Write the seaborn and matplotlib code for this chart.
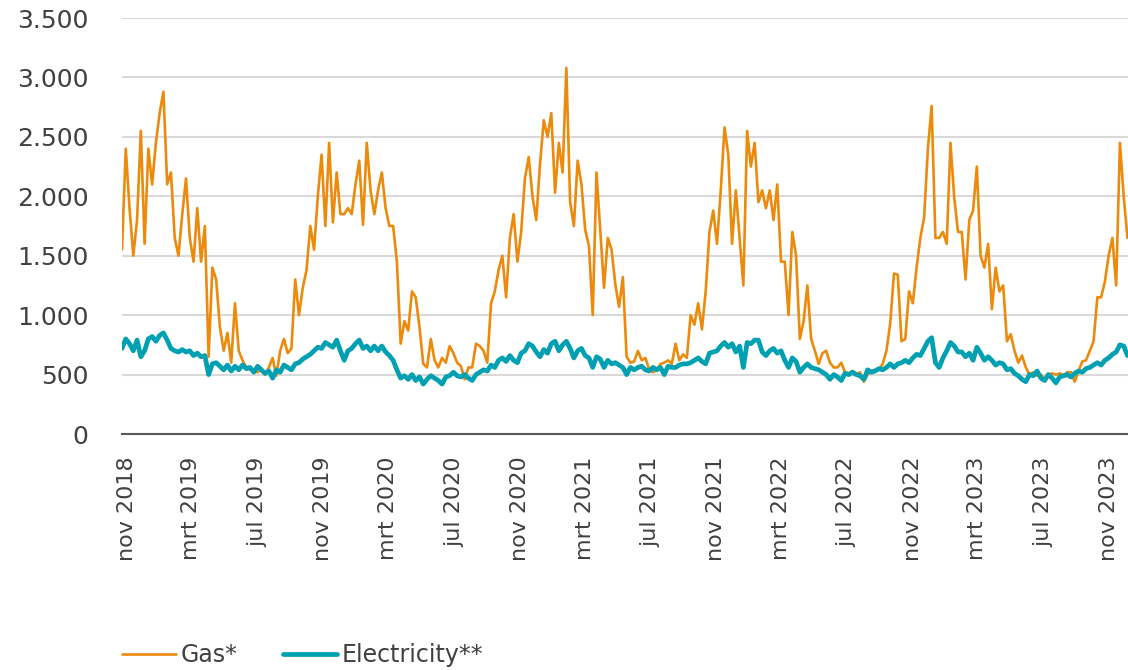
import numpy as np
import pandas as pd
import matplotlib
matplotlib.use("Agg")
import matplotlib.pyplot as plt
from matplotlib.ticker import FuncFormatter
import seaborn as sns

# ── Data (weekly readings, first week starting 23 Oct 2018) ──────────────────
START = "2018-10-23"

gas = [
    # okt 2018 - aug 2019
    1550, 2400, 1900, 1500, 1800, 2550, 1600, 2400, 2100, 2450,
    2700, 2880, 2100, 2200, 1650, 1500, 1850, 2150, 1650, 1450,
    1900, 1450, 1750, 650, 1400, 1300, 900, 700, 850, 600,
    1100, 700, 620, 560, 540, 530, 520, 540, 500, 560,
    640, 490, 700, 800, 680,
    # sep 2019 - jul 2020
    720, 1300, 1000, 1230, 1380, 1750, 1550, 2000, 2350, 1750,
    2450, 1780, 2200, 1850, 1850, 1900, 1850, 2100, 2300, 1760,
    2450, 2050, 1850, 2050, 2200, 1900, 1750, 1750, 1450, 760,
    950, 870, 1200, 1150, 900, 590, 560, 800, 620, 560,
    640, 600, 740, 680, 600,
    # jul 2020 - jun 2021
    570, 460, 560, 560, 760, 740, 700, 600, 1100, 1200,
    1380, 1500, 1150, 1650, 1850, 1450, 1700, 2150, 2330, 2000,
    1800, 2270, 2640, 2500, 2700, 2030, 2450, 2200, 3080, 1950,
    1750, 2300, 2100, 1720, 1580, 1000, 2200, 1720, 1230, 1650,
    1550, 1260, 1070, 1320, 650,
    # jun 2021 - apr 2022
    600, 610, 700, 620, 640, 540, 520, 540, 590, 600,
    620, 590, 760, 620, 670, 640, 1000, 920, 1100, 880,
    1200, 1700, 1880, 1600, 2050, 2580, 2350, 1600, 2050, 1650,
    1250, 2550, 2250, 2450, 1950, 2050, 1900, 2050, 1800, 2100,
    1450, 1450, 1000, 1700, 1500,
    # apr 2022 - feb 2023
    800, 950, 1250, 800, 700, 590, 680, 700, 600, 560,
    560, 600, 520, 510, 530, 500, 520, 440, 500, 530,
    540, 540, 590, 700, 930, 1350, 1340, 780, 800, 1200,
    1100, 1400, 1650, 1820, 2400, 2760, 1650, 1650, 1700, 1600,
    2450, 1990, 1700, 1700, 1300,
    # feb 2023 - nov 2023
    1800, 1880, 2250, 1500, 1400, 1600, 1050, 1400, 1200, 1250,
    780, 840, 700, 600, 660, 560, 500, 520, 490, 500,
    460, 500, 510, 500, 510, 490, 520, 520, 440, 530,
    610, 620, 700, 780, 1150, 1150, 1280, 1500, 1650, 1250,
    2450, 2000, 1650,
]

electricity = [
    720, 800, 760, 700, 790, 650, 700, 800, 820, 780,
    830, 850, 790, 720, 700, 690, 710, 690, 700, 660,
    680, 650, 660, 500, 590, 600, 570, 540, 580, 530,
    570, 540, 580, 550, 560, 520, 570, 540, 510, 530,
    470, 540, 520, 580, 560,
    540, 590, 600, 630, 650, 670, 700, 730, 720, 770,
    750, 730, 790, 700, 620, 700, 720, 760, 790, 720,
    740, 700, 740, 700, 740, 690, 660, 620, 540, 470,
    490, 460, 500, 450, 480, 420, 460, 490, 470, 450,
    420, 480, 490, 520, 490,
    480, 500, 470, 450, 500, 520, 540, 530, 580, 560,
    620, 640, 610, 660, 620, 600, 680, 700, 760, 740,
    690, 650, 710, 680, 760, 780, 700, 750, 780, 720,
    640, 700, 720, 660, 640, 560, 650, 630, 560, 620,
    590, 600, 580, 560, 500,
    560, 540, 560, 570, 540, 530, 560, 540, 560, 500,
    570, 560, 560, 580, 590, 590, 600, 620, 640, 610,
    590, 680, 690, 700, 740, 770, 730, 760, 690, 740,
    560, 770, 760, 790, 790, 690, 660, 700, 720, 680,
    700, 620, 560, 640, 610,
    520, 560, 590, 560, 550, 540, 520, 500, 460, 500,
    480, 450, 510, 500, 520, 500, 490, 460, 540, 520,
    530, 550, 540, 560, 590, 560, 590, 600, 620, 600,
    640, 670, 660, 720, 780, 810, 600, 560, 640, 700,
    770, 740, 690, 690, 650,
    680, 620, 730, 680, 620, 650, 620, 580, 600, 590,
    540, 550, 510, 490, 460, 440, 500, 490, 530, 470,
    450, 500, 470, 430, 480, 490, 500, 480, 510, 530,
    520, 550, 560, 580, 600, 580, 620, 640, 670, 690,
    750, 740, 660,
]

tick_dates = ["2018-11-01", "2019-03-01", "2019-07-01", "2019-11-01",
              "2020-03-01", "2020-07-01", "2020-11-01", "2021-03-01",
              "2021-07-01", "2021-11-01", "2022-03-01", "2022-07-01",
              "2022-11-01", "2023-03-01", "2023-07-01", "2023-11-01"]
tick_labels = ["nov 2018", "mrt 2019", "jul 2019", "nov 2019",
               "mrt 2020", "jul 2020", "nov 2020", "mrt 2021",
               "jul 2021", "nov 2021", "mrt 2022", "jul 2022",
               "nov 2022", "mrt 2023", "jul 2023", "nov 2023"]
y_ticks = [0, 500, 1000, 1500, 2000, 2500, 3000, 3500]

# ── Style ─────────────────────────────────────────────────────────────────────
GAS_COLOR = "#EC8A0B"
ELEC_COLOR = "#00A0B3"
TEXT_COLOR = "#404040"

sns.set_theme(style="white")
plt.rcParams["font.family"] = ["DejaVu Sans"]

dates = pd.date_range(START, periods=len(gas), freq="7D")
df = pd.DataFrame({"date": dates, "gas": gas, "electricity": electricity})

fig = plt.figure(figsize=(11.28, 6.7), dpi=100)
ax = fig.add_axes([122 / 1128, 236 / 670, 1006 / 1128, 416 / 670])

sns.lineplot(data=df, x="date", y="gas", color=GAS_COLOR, linewidth=1.9,
             label="Gas*", ax=ax)
sns.lineplot(data=df, x="date", y="electricity", color=ELEC_COLOR,
             linewidth=3.4, label="Electricity**", ax=ax)

ax.set_xlim(pd.Timestamp("2018-10-23"), pd.Timestamp("2023-12-06"))
ax.set_ylim(0, 3500)
ax.set_yticks(y_ticks)
ax.yaxis.set_major_formatter(FuncFormatter(lambda v, _: f"{v:,.0f}".replace(",", ".")))
ax.set_xticks(pd.to_datetime(tick_dates))
ax.set_xticklabels(tick_labels, rotation=90, ha="center", va="top")
ax.set_xlabel("")
ax.set_ylabel("")

ax.tick_params(axis="y", length=0, pad=24, labelsize=18, labelcolor=TEXT_COLOR)
ax.tick_params(axis="x", length=0, pad=16, labelsize=16, labelcolor=TEXT_COLOR)

ax.yaxis.grid(True, color="#D9D9D9", linewidth=1.5)
ax.xaxis.grid(False)
ax.set_axisbelow(True)
for side in ["left", "right", "top"]:
    ax.spines[side].set_visible(False)
ax.spines["bottom"].set_color("#595959")
ax.spines["bottom"].set_linewidth(1.5)

handles, labels = ax.get_legend_handles_labels()
ax.get_legend().remove()
fig.legend(handles, labels, loc="center left", bbox_to_anchor=(110 / 1128, 15 / 670),
           ncol=2, frameon=False, fontsize=17, labelcolor=TEXT_COLOR,
           handlelength=2.3, handletextpad=0.2, columnspacing=1.9, borderpad=0)

fig.savefig("out.png", dpi=100)
plt.close(fig)
